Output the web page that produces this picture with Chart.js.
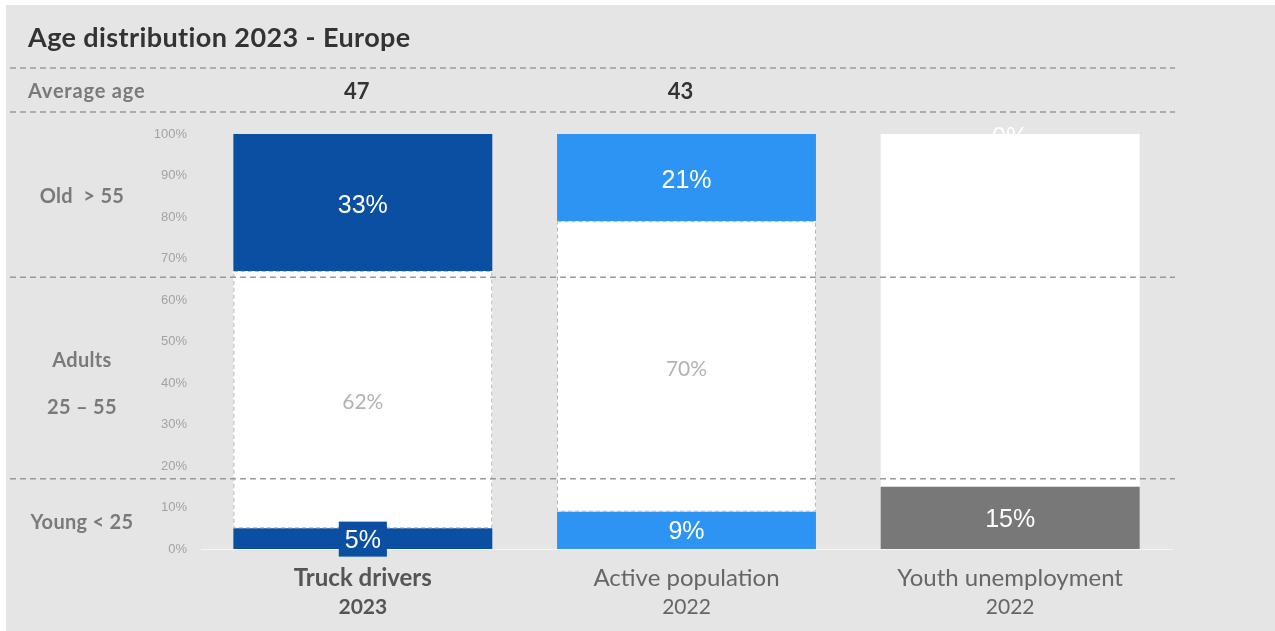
<!DOCTYPE html>
<html>
<head>
<meta charset="utf-8">
<title>Age distribution 2023 - Europe</title>
<script src="https://cdn.jsdelivr.net/npm/chart.js@4.4.0/dist/chart.umd.min.js"></script>
<style>
    html, body { margin: 0; padding: 0; background: #ffffff; }
    #marco { position: absolute; left: 6px; top: 5px; width: 1269px; height: 626px; background: #e5e5e5; }
</style>
</head>
<body>
<div id="marco"><canvas id="chart_edades" width="1269" height="626"></canvas></div>
<script>
// Datos
var categories = ['Truck drivers', 'Active population', 'Youth unemployment'];
var years = ['2023', '2022', '2022'];
var averageAge = ['47', '43', ''];
var young = [5, 9, 15];
var adults = [62, 70, 85];
var old = [33, 21, 0];
var bandLabels = ['Old  > 55', 'Adults', '25 \u2013 55', 'Young < 25'];

var colorYoung = ['#0b4fa3', '#2d94f4', '#787878'];
var colorOld = ['#0b4fa3', '#2d94f4', '#ffffff'];
var fontTexto = 'Lato, "Open Sans", sans-serif';

// Linea discontinua horizontal
function lineaPunteada(ctx, x1, x2, y) {
    ctx.save();
    ctx.strokeStyle = '#9a9a9a';
    ctx.lineWidth = 1.5;
    ctx.setLineDash([6, 4]);
    ctx.beginPath();
    ctx.moveTo(x1, y);
    ctx.lineTo(x2, y);
    ctx.stroke();
    ctx.restore();
}

// Plugin para bordes, etiquetas y textos del grafico
var plugin_textos = {
    id: 'textos',
    afterDatasetsDraw: function (chart) {
        var ctx = chart.ctx;
        var area = chart.chartArea;
        var yScale = chart.scales.y;
        var xScale = chart.scales.x;

        // borde punteado de los adultos
        var metaAdults = chart.getDatasetMeta(1);
        metaAdults.data.forEach(function (bar, j) {
            if (j > 1) return;
            ctx.save();
            ctx.strokeStyle = '#b4b4b4';
            ctx.lineWidth = 1;
            ctx.setLineDash([4, 3]);
            ctx.strokeRect(bar.x - bar.width / 2 + 0.5, bar.y + 0.5, bar.width - 1, bar.base - bar.y - 1);
            ctx.restore();
        });

        // separadores
        lineaPunteada(ctx, 4, 1169, area.top - 66);
        lineaPunteada(ctx, 4, 1169, area.top - 22);
        lineaPunteada(ctx, 4, 1169, yScale.getPixelForValue(65.5));
        lineaPunteada(ctx, 4, 1169, yScale.getPixelForValue(16.9));

        // etiquetas de valores
        ctx.save();
        ctx.textAlign = 'center';
        ctx.textBaseline = 'middle';
        chart.data.datasets.forEach(function (ds, i) {
            var meta = chart.getDatasetMeta(i);
            meta.data.forEach(function (bar, j) {
                var value = ds.data[j];
                var cy = (bar.y + bar.base) / 2;
                if (i === 1) {
                    if (j > 1) return;
                    ctx.font = '21px ' + fontTexto;
                    ctx.fillStyle = '#b3b3b3';
                    ctx.fillText(value + '%', bar.x, cy + 3);
                    return;
                }
                ctx.font = '25px "Liberation Sans", Arial, sans-serif';
                var texto = value + '%';
                if (i === 0) {
                    var w = ctx.measureText(texto).width + 12;
                    ctx.fillStyle = colorYoung[j];
                    ctx.fillRect(bar.x - w / 2, cy - 17, w, 35);
                }
                ctx.fillStyle = '#ffffff';
                ctx.fillText(texto, bar.x, cy + (i === 2 ? 4 : 2));
            });
        });
        ctx.restore();

        // titulo y textos de la izquierda
        ctx.save();
        ctx.textBaseline = 'middle';
        ctx.textAlign = 'left';
        ctx.fillStyle = '#333333';
        ctx.font = 'bold 27px ' + fontTexto;
        ctx.letterSpacing = '0.4px';
        ctx.fillText('Age distribution 2023 - Europe', 22, 33);

        ctx.fillStyle = '#7a7a7a';
        ctx.font = 'bold 20px ' + fontTexto;
        ctx.letterSpacing = '0.8px';
        ctx.fillText('Average age', 22, area.top - 42);

        ctx.textAlign = 'center';
        ctx.letterSpacing = '0.3px';
        var bandValues = [85, 45.3, 34.2, 6.3];
        bandLabels.forEach(function (txt, k) {
            ctx.fillText(txt, 76, yScale.getPixelForValue(bandValues[k]));
        });
        ctx.letterSpacing = '0px';

        // edad promedio y categorias
        categories.forEach(function (cat, j) {
            var x = xScale.getPixelForValue(j);
            ctx.fillStyle = '#333333';
            ctx.font = 'bold 22px ' + fontTexto;
            ctx.fillText(averageAge[j], x - 6, area.top - 42);

            ctx.fillStyle = j === 0 ? '#555555' : '#666666';
            ctx.font = (j === 0 ? 'bold ' : 'normal ') + '24px ' + fontTexto;
            ctx.fillText(cat, x, area.bottom + 29);
            ctx.font = (j === 0 ? 'bold ' : 'normal ') + '21px ' + fontTexto;
            ctx.fillText(years[j], x, area.bottom + 58);
        });
        ctx.restore();
    }
};

var config_edades = {
    type: 'bar',
    data: {
        labels: categories,
        datasets: [{
            label: 'Young < 25',
            data: young,
            backgroundColor: colorYoung
        }, {
            label: 'Adults 25 - 55',
            data: adults,
            backgroundColor: '#ffffff'
        }, {
            label: 'Old > 55',
            data: old,
            backgroundColor: colorOld
        }]
    },
    options: {
        responsive: false,
        animation: false,
        events: [],
        categoryPercentage: 0.8,
        barPercentage: 1.0,
        layout: {
            padding: { left: 135, top: 129, right: 103, bottom: 82 }
        },
        plugins: {
            legend: { display: false },
            tooltip: { enabled: false },
            title: { display: false }
        },
        scales: {
            x: {
                stacked: true,
                grid: { display: false, drawTicks: false },
                ticks: { display: false },
                border: { display: true, color: '#f5f5f5', width: 1 },
                afterFit: function (s) { s.height = 0; }
            },
            y: {
                stacked: true,
                min: 0,
                max: 100,
                grid: { display: false, drawTicks: false },
                border: { display: false },
                ticks: {
                    stepSize: 10,
                    padding: 14,
                    color: '#a3a3a3',
                    font: { family: '"Liberation Sans", Arial, sans-serif', size: 13 },
                    callback: function (v) { return v + '%'; }
                },
                afterFit: function (s) { s.width = 60; }
            }
        }
    },
    plugins: [plugin_textos]
};

var canvas_edades = document.getElementById('chart_edades');
var chart_edades = new Chart(canvas_edades, config_edades);
</script>
</body>
</html>
